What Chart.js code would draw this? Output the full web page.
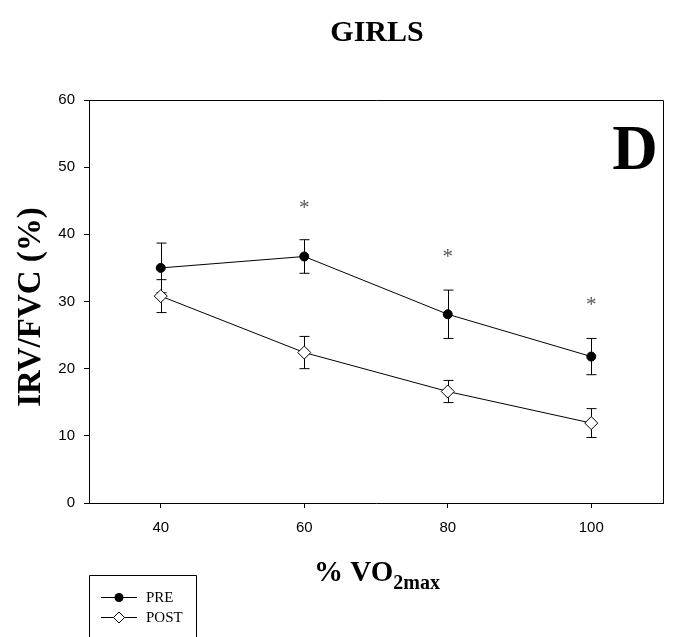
<!DOCTYPE html>
<html>
<head>
<meta charset="utf-8">
<script src="https://cdn.jsdelivr.net/npm/chart.js@4"></script>
<style>
    html, body { margin: 0; padding: 0; background: #fff; }
    #wrap { width: 675px; height: 637px; position: relative; }
</style>
</head>
<body>
<div id="wrap"><canvas id="chart" width="675" height="637"></canvas></div>
<script>
    // values
    const xValues = [40, 60, 80, 100];
    const preValues = [35.0, 36.7, 28.1, 21.8];
    const preErrors = [3.7, 2.5, 3.6, 2.7];
    const postValues = [30.8, 22.4, 16.6, 11.9];
    const postErrors = [2.45, 2.4, 1.65, 2.15];
    const starX = [60, 80, 100];
    const starY = [44.3, 37.05, 29.9];
    const xTicks = [40, 60, 80, 100];
    const yTicks = [0, 10, 20, 30, 40, 50, 60];

    const serif = '"Liberation Serif", "Times New Roman", serif';
    const sans = '"Liberation Sans", Arial, sans-serif';

    const errorBars = {
        id: 'errorBars',
        beforeDatasetsDraw(chart) {
            const ctx = chart.ctx, xs = chart.scales.x, ys = chart.scales.y;
            ctx.save();
            ctx.strokeStyle = '#000';
            ctx.lineWidth = 1;
            [[preValues, preErrors], [postValues, postErrors]].forEach(([vals, errs]) => {
                vals.forEach((v, i) => {
                    const px = Math.round(xs.getPixelForValue(xValues[i])) + 0.5;
                    const top = ys.getPixelForValue(v + errs[i]);
                    const bot = ys.getPixelForValue(v - errs[i]);
                    ctx.beginPath();
                    ctx.moveTo(px, top); ctx.lineTo(px, bot);
                    ctx.moveTo(px - 5, top); ctx.lineTo(px + 5, top);
                    ctx.moveTo(px - 5, bot); ctx.lineTo(px + 5, bot);
                    ctx.stroke();
                });
            });
            ctx.restore();
        }
    };

    const decorations = {
        id: 'decorations',
        afterDraw(chart) {
            const ctx = chart.ctx, a = chart.chartArea, xs = chart.scales.x, ys = chart.scales.y;
            ctx.save();
            // frame (top and right)
            ctx.strokeStyle = '#000';
            ctx.lineWidth = 1;
            ctx.beginPath();
            ctx.moveTo(a.left, a.top + 0.5); ctx.lineTo(a.right + 0.5, a.top + 0.5);
            ctx.lineTo(a.right + 0.5, a.bottom);
            ctx.stroke();

            // significance stars
            ctx.fillStyle = '#555';
            ctx.font = '21px ' + serif;
            ctx.textAlign = 'center';
            ctx.textBaseline = 'alphabetic';
            starX.forEach((x, i) => {
                ctx.fillText('*', xs.getPixelForValue(x), ys.getPixelForValue(starY[i]) + 9);
            });

            ctx.fillStyle = '#000';
            // panel letter
            ctx.font = 'bold 63px ' + serif;
            ctx.fillText('D', 635, 169);

            // title
            ctx.font = 'bold 30px ' + serif;
            ctx.fillText('GIRLS', 377, 41);

            // x axis title with subscript
            ctx.textAlign = 'left';
            const main = '% VO';
            ctx.font = 'bold 29px ' + serif;
            const w1 = ctx.measureText(main).width;
            ctx.font = 'bold 20px ' + serif;
            const w2 = ctx.measureText('2max').width;
            const startX = 377 - (w1 + w2) / 2;
            ctx.font = 'bold 29px ' + serif;
            ctx.fillText(main, startX, 581);
            ctx.font = 'bold 20px ' + serif;
            ctx.fillText('2max', startX + w1, 589);

            // y axis title
            ctx.save();
            ctx.translate(40, 307);
            ctx.rotate(-Math.PI / 2);
            ctx.textAlign = 'center';
            ctx.font = 'bold 33px ' + serif;
            ctx.fillText('IRV/FVC (%)', 0, 0);
            ctx.restore();

            // legend box
            ctx.beginPath();
            ctx.moveTo(89.5, 640); ctx.lineTo(89.5, 575.5); ctx.lineTo(196.5, 575.5); ctx.lineTo(196.5, 640);
            ctx.stroke();
            const rows = [['PRE', 597, 'circle'], ['POST', 617, 'diamond']];
            ctx.font = '15px ' + serif;
            ctx.textBaseline = 'middle';
            rows.forEach(([label, y, kind]) => {
                ctx.beginPath();
                ctx.moveTo(101, y + 0.5); ctx.lineTo(137, y + 0.5);
                ctx.stroke();
                ctx.beginPath();
                if (kind === 'circle') {
                    ctx.arc(119, y + 0.5, 4.5, 0, Math.PI * 2);
                    ctx.fillStyle = '#000';
                    ctx.fill();
                } else {
                    ctx.moveTo(119, y - 5); ctx.lineTo(124.5, y + 0.5); ctx.lineTo(119, y + 6); ctx.lineTo(113.5, y + 0.5);
                    ctx.closePath();
                    ctx.fillStyle = '#fff';
                    ctx.fill();
                    ctx.stroke();
                }
                ctx.fillStyle = '#000';
                ctx.fillText(label, 146, y + 1);
            });
            ctx.restore();
        }
    };

    const ctx = document.getElementById('chart').getContext('2d');
    const chart = new Chart(ctx, {
        type: 'line',
        data: {
            datasets: [
                { label: 'POST', data: xValues.map((x, i) => ({ x: x, y: postValues[i] })), borderColor: '#000', borderWidth: 1,
                  pointStyle: 'rectRot', pointRadius: 6.5, pointBackgroundColor: '#fff', pointBorderColor: '#000', pointBorderWidth: 1, tension: 0 },
                { label: 'PRE', data: xValues.map((x, i) => ({ x: x, y: preValues[i] })), borderColor: '#000', borderWidth: 1,
                  pointStyle: 'circle', pointRadius: 4.5, pointBackgroundColor: '#000', pointBorderColor: '#000', pointBorderWidth: 1, tension: 0 }
            ]
        },
        options: {
            responsive: false,
            animation: false,
            layout: { padding: { top: 100, right: 12, left: 0, bottom: 0 }, autoPadding: false },
            plugins: { legend: { display: false }, title: { display: false }, tooltip: { enabled: false } },
            scales: {
                x: {
                    type: 'linear', min: 30, max: 110,
                    afterBuildTicks: s => { s.ticks = xTicks.map(v => ({ value: v })); },
                    afterFit: s => { s.height = 134; },
                    grid: { drawOnChartArea: false, tickLength: 5, tickColor: '#000' },
                    border: { display: true, color: '#000', width: 1 },
                    ticks: { color: '#000', font: { family: sans, size: 15 }, padding: 11 }
                },
                y: {
                    type: 'linear', min: 0, max: 60,
                    afterBuildTicks: s => { s.ticks = yTicks.map(v => ({ value: v })); },
                    afterFit: s => { s.width = 89; },
                    grid: { drawOnChartArea: false, tickLength: 5, tickColor: '#000' },
                    border: { display: true, color: '#000', width: 1 },
                    ticks: { color: '#000', font: { family: sans, size: 15 }, padding: 9 }
                }
            }
        },
        plugins: [errorBars, decorations]
    });
</script>
</body>
</html>
